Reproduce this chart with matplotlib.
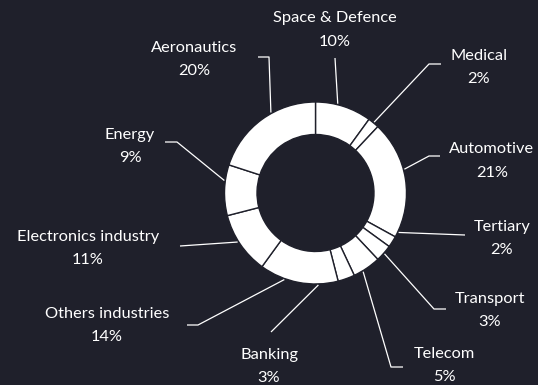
"""
Donut chart: share of activity by industry sector
"""

import numpy as np
import matplotlib
matplotlib.use('Agg')
import matplotlib.pyplot as plt

# data
sectors = ['Space & Defence', 'Medical', 'Automotive', 'Tertiary', 'Transport',
           'Telecom', 'Banking', 'Others industries', 'Electronics industry',
           'Energy', 'Aeronautics']
shares = [10, 2, 21, 2, 3, 5, 3, 14, 11, 9, 20]

# layout (pixel coords, y measured from top of the image)
W, H = 538, 385
bg = '#1f202b'
center_px = (315.5, 193)
r_out, r_in = 91, 58.5

label_px = [(335, 30), (479, 67.5), (492, 161), (502, 238.5), (490, 310.5),
            (444, 365.5), (269, 366.5), (107, 325.5), (88, 248.5), (130, 146.5), (194, 59.5)]
# leader path from the label side, ends at the ring
leader_px = [
    [(335, 58)],
    [(441, 64), (429, 64)],
    [(440, 156), (429, 156)],
    [(465, 235)],
    [(446, 309), (434, 309)],
    [(403, 367), (391, 367)],
    [(271, 332)],
    [(187, 325), (198, 325)],
    [(180, 246)],
    [(165, 142), (177, 142)],
    [(258, 57), (269, 57)],
]
# small shifts (clockwise degrees) of where the leader meets the ring
leader_nudge = [-4, 0, -6, -7, 0, 3, 18, 9, 2, 6, 7]


def px(x, y):
    return x, H - y


fig = plt.figure(figsize=(W / 100, H / 100), dpi=100, facecolor=bg)
ax = fig.add_axes([0, 0, 1, 1])
ax.set_facecolor(bg)

cx, cy = px(*center_px)
wedges, _ = ax.pie(shares, startangle=90, counterclock=False,
                   radius=r_out, center=(cx, cy),
                   colors=['white'] * len(shares),
                   wedgeprops=dict(width=r_out - r_in, edgecolor=bg, linewidth=1.0))

ax.set_xlim(0, W)
ax.set_ylim(0, H)
ax.set_aspect('equal')
ax.axis('off')

for w, name, val, lp, path, nudge in zip(wedges, sectors, shares, label_px,
                                         leader_px, leader_nudge):
    mid = np.deg2rad((w.theta1 + w.theta2) / 2 - nudge)
    anchor = (cx + (r_out + 1) * np.cos(mid), cy + (r_out + 1) * np.sin(mid))
    pts = [px(*p) for p in path] + [anchor]
    xs, ys = zip(*pts)
    ax.plot(xs, ys, color='white', linewidth=0.9, solid_capstyle='butt')

    tx, ty = px(*lp)
    ax.text(tx, ty, f'{name}\n{val}%', ha='center', va='center', color='white',
            fontsize=11.8, family=['Lato', 'DejaVu Sans'], linespacing=1.85)

plt.savefig('out.png', dpi=100, facecolor=bg)
plt.close()
